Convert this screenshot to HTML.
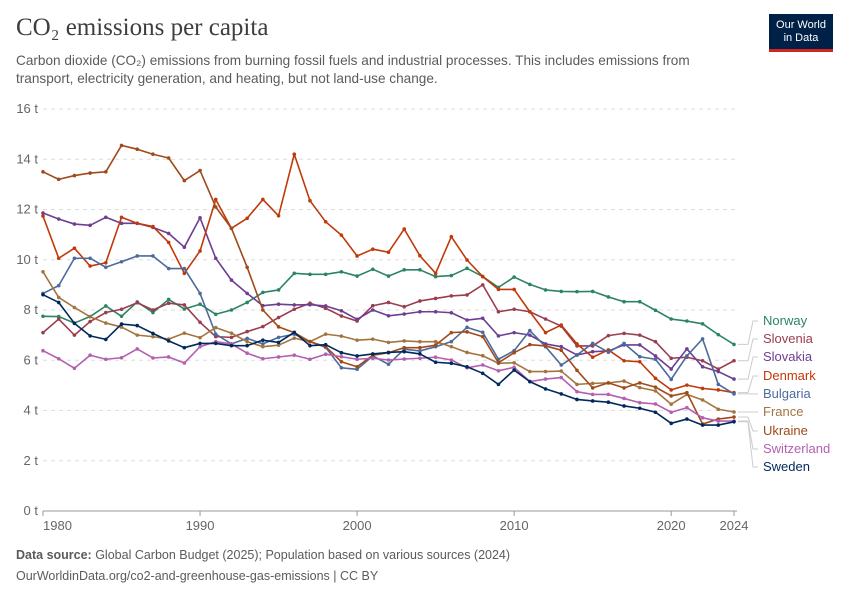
<!DOCTYPE html>
<html><head><meta charset="utf-8">
<style>
body{margin:0;background:#fff;font-family:"Liberation Sans",sans-serif;}
#wrap{position:relative;width:850px;height:600px;overflow:hidden;}
.title{position:absolute;left:16px;top:14px;font-family:"Liberation Serif",serif;font-size:25px;color:#3e3e3e;}
.sub{position:absolute;left:16px;top:52px;width:710px;font-size:13.6px;line-height:18px;color:#5b5b5b;}
.logo{position:absolute;left:769px;top:14px;width:64px;height:38px;background:#002147;color:#fff;font-size:11px;line-height:13px;text-align:center;padding-top:5px;box-sizing:border-box;border-bottom:3px solid #ce261e;}
.foot{position:absolute;left:16px;font-size:12.5px;color:#5b5b5b;}
</style></head><body>
<div id="wrap">
<div class="title">CO₂ emissions per capita</div>
<div class="sub">Carbon dioxide (CO₂) emissions from burning fossil fuels and industrial processes. This includes emissions from transport, electricity generation, and heating, but not land-use change.</div>
<div class="logo">Our World<br>in Data</div>
<svg id="chart" width="850" height="600" style="position:absolute;left:0;top:0"></svg>
<div class="foot" style="top:548px"><b>Data source:</b> Global Carbon Budget (2025); Population based on various sources (2024)</div>
<div class="foot" style="top:569px">OurWorldinData.org/co2-and-greenhouse-gas-emissions | CC BY</div>
</div>
<script>
const startYear = 1980;
const yTicks = [0,2,4,6,8,10,12,14,16];
const xTickYears = [1980,1990,2000,2010,2020,2024];
const seriesNames = ["Norway","Slovenia","Slovakia","Denmark","Bulgaria","France","Ukraine","Switzerland","Sweden"];
const norway = [7.75,7.74,7.48,7.74,8.16,7.75,8.32,7.9,8.42,8.04,8.23,7.83,8.0,8.3,8.7,8.8,9.46,9.42,9.42,9.52,9.35,9.62,9.35,9.6,9.6,9.33,9.37,9.66,9.33,8.9,9.31,9.02,8.8,8.74,8.73,8.74,8.52,8.33,8.33,7.99,7.64,7.56,7.45,7.02,6.63];
const slovenia = [7.1,7.64,7.0,7.54,7.9,8.03,8.29,8.0,8.27,8.2,7.51,6.94,6.91,7.14,7.34,7.7,8.03,8.27,8.07,7.76,7.56,8.17,8.3,8.13,8.36,8.46,8.56,8.6,9.0,7.93,8.03,7.93,7.64,7.36,6.57,6.57,6.98,7.07,7.0,6.74,6.08,6.12,5.98,5.65,5.98];
const slovakia = [11.86,11.62,11.42,11.37,11.69,11.45,11.45,11.29,11.05,10.5,11.67,10.06,9.19,8.66,8.17,8.23,8.2,8.21,8.16,7.97,7.63,8.0,7.77,7.84,7.93,7.93,7.89,7.6,7.67,6.97,7.1,7.0,6.65,6.54,6.21,6.34,6.37,6.61,6.61,6.17,5.65,6.45,5.74,5.55,5.25];
const denmark = [11.74,10.06,10.46,9.75,9.88,11.69,11.45,11.32,10.69,9.46,10.35,12.4,11.25,11.65,12.4,11.75,14.2,12.35,11.51,10.98,10.15,10.42,10.3,11.22,10.16,9.46,10.92,9.99,9.33,8.82,8.82,7.93,7.1,7.4,6.65,6.12,6.41,5.98,5.94,5.28,4.82,5.01,4.88,4.82,4.71];
const bulgaria = [8.66,8.97,10.06,10.06,9.7,9.92,10.15,10.15,9.65,9.65,8.66,7.04,6.65,6.87,6.65,6.91,7.04,6.74,6.51,5.7,5.64,6.17,5.84,6.44,6.37,6.54,6.74,7.31,7.11,6.04,6.38,7.18,6.54,5.81,6.21,6.67,6.32,6.67,6.14,6.04,5.24,6.17,6.85,5.04,4.66];
const france = [9.52,8.5,8.1,7.73,7.48,7.32,7.0,6.94,6.84,7.08,6.9,7.3,7.08,6.74,6.54,6.6,6.88,6.74,7.04,6.96,6.8,6.84,6.71,6.77,6.74,6.74,6.54,6.31,6.18,5.88,5.9,5.55,5.55,5.57,5.04,5.08,5.1,5.17,4.91,4.78,4.25,4.64,4.42,4.05,3.94];
const ukraine = [13.5,13.2,13.35,13.45,13.5,14.55,14.4,14.2,14.05,13.15,13.55,12.1,11.25,9.7,8.0,7.33,7.1,6.74,6.54,5.94,5.74,6.2,6.3,6.5,6.5,6.6,7.1,7.13,6.94,5.9,6.3,6.62,6.57,6.4,5.6,4.9,5.1,4.9,5.1,4.93,4.58,4.71,3.46,3.66,3.74];
const switzerland = [6.38,6.06,5.68,6.2,6.04,6.1,6.45,6.09,6.13,5.89,6.54,6.74,6.65,6.28,6.06,6.13,6.2,6.04,6.24,6.14,6.04,6.08,6.01,6.05,6.08,6.12,6.01,5.7,5.81,5.58,5.72,5.15,5.25,5.31,4.75,4.64,4.64,4.48,4.31,4.26,3.93,4.11,3.71,3.58,3.58];
const sweden = [8.61,8.3,7.47,6.97,6.83,7.44,7.38,7.07,6.77,6.5,6.67,6.67,6.58,6.58,6.8,6.71,7.11,6.58,6.62,6.3,6.17,6.25,6.31,6.34,6.25,5.92,5.88,5.74,5.48,5.04,5.61,5.15,4.86,4.66,4.44,4.38,4.33,4.18,4.09,3.93,3.49,3.66,3.42,3.42,3.55];
const seriesValues = [norway,slovenia,slovakia,denmark,bulgaria,france,ukraine,switzerland,sweden];
const seriesColors = ["#2c8465","#9a3d4e","#6d3e91","#c0390b","#4c6a9c","#a2753f","#a04a1a","#b45fb0","#00295b"];

const X0=43, X1=734, Y0=511, Y1=109, yMax=16, yearSpan=44;
const xs = yr => X0 + (yr-startYear)*(X1-X0)/yearSpan;
const ys = v => Y0 - v*(Y0-Y1)/yMax;
const NS="http://www.w3.org/2000/svg";
const svg=document.getElementById('chart');
function mk(tag,attrs,parent){const e=document.createElementNS(NS,tag);for(const k in attrs)e.setAttribute(k,attrs[k]);(parent||svg).appendChild(e);return e;}

yTicks.forEach(t=>{
  const y=ys(t);
  const g=mk('line',{x1:43,x2:737,y1:y,y2:y,stroke:t===0?'#999':'#ddd','stroke-dasharray':t===0?'':'4,4','stroke-width':1});
  
  
  const tx=mk('text',{x:38,y:y+4,'text-anchor':'end','font-size':13,fill:'#666','font-family':'Liberation Sans, sans-serif'});
  tx.textContent=t+' t';
  
  
});
xTickYears.forEach((yr,i)=>{
  const x=xs(yr);
  const tl=mk('line',{x1:x,x2:x,y1:Y0,y2:Y0+5,stroke:'#999'});
  
  
  const tx=mk('text',{x:x,y:530,'text-anchor':i===0?'start':'middle','font-size':13,fill:'#666','font-family':'Liberation Sans, sans-serif'});
  tx.textContent=yr;
  
  
});

const labelYs=[325,343,361,380,398,416,435,453,471];
seriesValues.forEach((vals,si)=>{
  const col=seriesColors[si];
  const g=mk('g',{});
  
  
  const pts=vals.map((v,i)=>xs(startYear+i)+','+ys(v)).join(' ');
  const pl=mk('polyline',{points:pts,fill:'none',stroke:col,'stroke-width':1.6,'stroke-linejoin':'round'},g);
  
  
  vals.forEach((v,i)=>{
    const c=mk('circle',{cx:xs(startYear+i),cy:ys(v),r:1.8,fill:col},g);
    
    
  });
  const ey=ys(vals[vals.length-1]), ly=labelYs[si];
  const conn=mk('polyline',{points:`${X1+4},${ey} ${748},${ey} ${753},${ly-4} ${758},${ly-4}`,fill:'none',stroke:'#ccc','stroke-width':1});
  
  
  const lt=mk('text',{x:763,y:ly,'font-size':13,fill:col,'font-family':'Liberation Sans, sans-serif'});
  lt.textContent=seriesNames[si];
  
  
});
</script>
</body></html>
